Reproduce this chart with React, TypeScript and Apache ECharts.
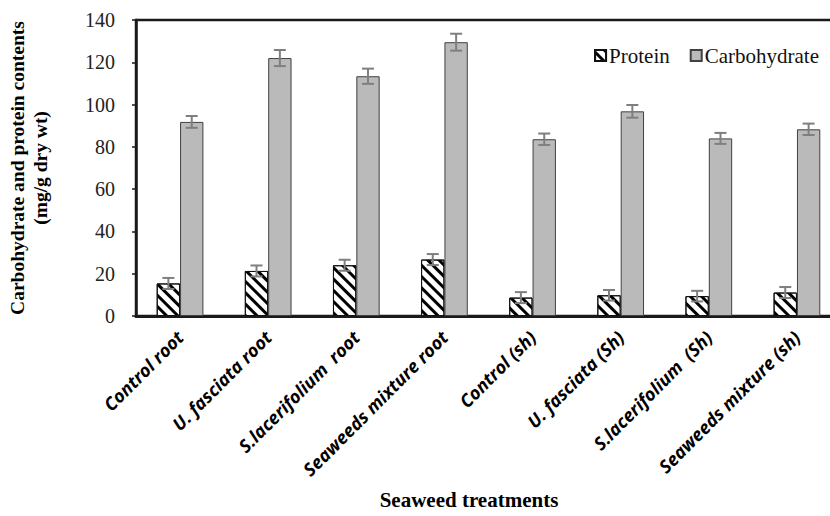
import React, { useEffect, useRef } from "react";
import * as echarts from "echarts";

const categories = [
  "Control root",
  "U. fasciata root",
  "S.lacerifolium  root",
  "Seaweeds mixture root",
  "Control (sh)",
  "U. fasciata (Sh)",
  "S.lacerifolium  (Sh)",
  "Seaweeds mixture (sh)",
];
const protein = [15.4, 21.3, 24.0, 26.7, 8.7, 9.8, 9.4, 11.1];
const proteinErr = [2.6, 2.6, 2.6, 2.6, 2.6, 2.5, 2.5, 2.6];
const carbohydrate = [91.8, 122.0, 113.4, 129.5, 83.6, 96.8, 84.0, 88.3];
const carbohydrateErr = [2.8, 3.8, 3.6, 4.0, 2.7, 3.0, 2.6, 2.7];
const yTicks = [0, 20, 40, 60, 80, 100, 120, 140];

const GAP = 0.47;
const serif = "'Liberation Serif', 'Times New Roman', serif";
const CHART_W = 845;

function errorSeries(vals: number[], errs: number[], side: number, name: string) {
  return {
    type: "custom",
    name,
    silent: true,
    z: 10,
    data: vals.map((v, i) => [i, v - errs[i], v + errs[i]]),
    renderItem: (params: any, api: any) => {
      const idx = api.value(0);
      const band = api.size([1, 0])[0];
      const bw = (band * (1 - GAP)) / 2;
      const lo = api.coord([idx, api.value(1)]);
      const hi = api.coord([idx, api.value(2)]);
      const x = lo[0] + (side * bw) / 2;
      const cap = 6;
      const style = { stroke: "#7f7f7f", lineWidth: 2 };
      return {
        type: "group",
        children: [
          { type: "line", shape: { x1: x, y1: lo[1], x2: x, y2: hi[1] }, style },
          { type: "line", shape: { x1: x - cap, y1: lo[1], x2: x + cap, y2: lo[1] }, style },
          { type: "line", shape: { x1: x - cap, y1: hi[1], x2: x + cap, y2: hi[1] }, style },
        ],
      };
    },
  };
}

export default function App() {
  const ref = useRef<HTMLDivElement>(null);
  useEffect(() => {
    if (!ref.current) return;
    const chart = echarts.init(ref.current, undefined, { renderer: "svg" });
    chart.setOption({
      animation: false,
      backgroundColor: "#fff",
      grid: {
        left: 136,
        top: 20,
        right: CHART_W - 841,
        bottom: 200,
        show: true,
        borderColor: "#1a1a1a",
        borderWidth: 2.5,
      },
      legend: {
        right: CHART_W - 819 - 5,
        top: 40,
        icon: "rect",
        itemWidth: 11,
        itemHeight: 11,
        itemGap: 20,
        textStyle: { fontFamily: serif, fontSize: 21, color: "#111", padding: [0, 0, 0, -2] },
        data: ["Protein", "Carbohydrate"],
      },
      xAxis: {
        type: "category",
        data: categories,
        axisLine: { lineStyle: { color: "#1a1a1a", width: 3 } },
        axisTick: { show: false },
        axisLabel: {
          interval: 0,
          rotate: 45,
          margin: 18,
          fontFamily: "'Open Sans', 'DejaVu Sans', sans-serif",
          fontWeight: "bold",
          fontStyle: "italic",
          fontSize: 18,
          color: "#000",
        },
      },
      yAxis: {
        type: "value",
        min: yTicks[0],
        max: yTicks[yTicks.length - 1],
        interval: 20,
        splitLine: { show: false },
        axisLine: { show: true, lineStyle: { color: "#1a1a1a", width: 2.5 } },
        axisTick: { show: true, inside: false, length: 4, lineStyle: { color: "#1a1a1a", width: 1.5 } },
        axisLabel: { fontFamily: serif, fontSize: 20, color: "#222", margin: 21 },
      },
      graphic: [
        {
          type: "text",
          x: 29,
          y: 168,
          rotation: Math.PI / 2,
          style: {
            text: "Carbohydrate and protein contents\n(mg/g dry wt)",
            fontFamily: serif,
            fontWeight: "bold",
            fontSize: 19.5,
            lineHeight: 23,
            fill: "#000",
            align: "center",
            verticalAlign: "middle",
          },
        },
        {
          type: "text",
          x: 469,
          y: 500,
          style: {
            text: "Seaweed treatments",
            fontFamily: serif,
            fontWeight: "bold",
            fontSize: 21,
            fill: "#000",
            align: "center",
            verticalAlign: "middle",
          },
        },
      ],
      series: [
        {
          name: "Protein",
          type: "bar",
          data: protein,
          barGap: "0%",
          barCategoryGap: GAP * 100 + "%",
          itemStyle: {
            color: "#fff",
            borderColor: "#111",
            borderWidth: 1,
            decal: {
              symbol: "rect",
              symbolSize: 1,
              color: "#000",
              dashArrayX: [1, 0],
              dashArrayY: [3, 4.5],
              rotation: Math.PI / 4,
            },
          },
        },
        {
          name: "Carbohydrate",
          type: "bar",
          data: carbohydrate,
          barGap: "0%",
          barCategoryGap: GAP * 100 + "%",
          itemStyle: { color: "#bababa", borderColor: "#404040", borderWidth: 1 },
        },
        errorSeries(protein, proteinErr, -1, "pErr"),
        errorSeries(carbohydrate, carbohydrateErr, 1, "cErr"),
      ],
    });
    return () => chart.dispose();
  }, []);
  return (
    <div
      style={{
        position: "absolute",
        left: 0,
        top: 0,
        width: 830,
        height: 516,
        overflow: "hidden",
      }}
    >
      <div ref={ref} style={{ width: CHART_W, height: 516 }} />
    </div>
  );
}
